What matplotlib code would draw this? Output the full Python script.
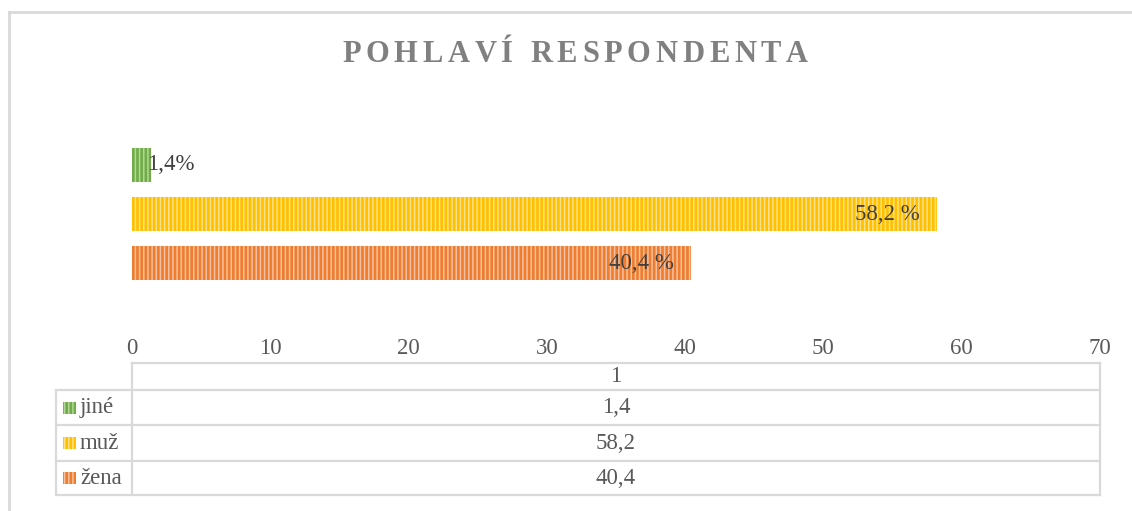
import matplotlib.pyplot as plt
from matplotlib.lines import Line2D
from matplotlib.patches import Rectangle

# data
categories = ['žena', 'muž', 'jiné']
values = [40.4, 58.2, 1.4]
bar_labels = ['40,4 %', '58,2 %', '1,4%']
colors = ['#ED7D31', '#FFC000', '#70AD47']
stripe_colors = ['#F8C09C', '#FFE189', '#B2D69B']
x_ticks = [0, 10, 20, 30, 40, 50, 60, 70]
title = 'POHLAVÍ RESPONDENTA'
series_name = '1'

W, H = 1132, 511
plt.rcParams['font.family'] = ['Liberation Serif', 'DejaVu Serif']
plt.rcParams['hatch.linewidth'] = 1.1
text_col = '#595959'
grid_col = '#D9D9D9'
fs = 16.5

fig = plt.figure(figsize=(W / 100, H / 100), dpi=100)


def fx(x):
    return x / W


def fy(y):
    return 1 - y / H


# plot area (pixel box 132..1100, 140..288)
ax = fig.add_axes([fx(132), fy(288), fx(1100) - fx(132), fy(140) - fy(288)])
for i, (v, c, sc) in enumerate(zip(values, colors, stripe_colors)):
    ax.barh(i, v, height=0.69, color=c, edgecolor=sc, linewidth=0, hatch='||||')

for i, (v, lab) in enumerate(zip(values, bar_labels)):
    if v < 5:
        ax.text(v - 0.3, i, lab, ha='left', va='center', fontsize=fs, color='#404040')
    else:
        ax.text(v - 1.2, i, lab, ha='right', va='center', fontsize=fs, color='#404040')

ax.set_xlim(x_ticks[0], x_ticks[-1])
ax.set_ylim(-0.5, 2.5)
ax.set_xticks(x_ticks)
ax.set_xticklabels([str(t) for t in x_ticks], fontsize=fs, color=text_col)
ax.tick_params(axis='x', length=0, pad=36)
ax.set_yticks([])
for s in ax.spines.values():
    s.set_visible(False)
ax.patch.set_alpha(0)

# title with wide letter spacing, spanning about x 342..808
fig.canvas.draw()
rend = fig.canvas.get_renderer()
tprops = dict(fontsize=22, fontweight='bold', color='#808080')
widths = []
for ch in title:
    if ch == ' ':
        widths.append(0.25 * tprops['fontsize'] * 100 / 72)
        continue
    t = fig.text(0, 0, ch, **tprops)
    widths.append(t.get_window_extent(rend).width)
    t.remove()
gap = (466 - sum(widths)) / (len(title) - 1)
x = 342
for ch, w in zip(title, widths):
    if ch != ' ':
        fig.text(fx(x), fy(62), ch, ha='left', va='baseline', **tprops)
    x += w + gap

# chart border
fig.add_artist(Line2D([fx(9), fx(W)], [fy(12), fy(12)], color=grid_col, lw=2))
fig.add_artist(Line2D([fx(9), fx(9)], [fy(12), fy(H)], color=grid_col, lw=2))

# data table
xl, xm, xr = 56, 132, 1100
rows_y = [363, 390, 425, 461, 495]
lw = 1.6
fig.add_artist(Line2D([fx(xm), fx(xr)], [fy(rows_y[0])] * 2, color=grid_col, lw=lw))
for yy in rows_y[1:]:
    fig.add_artist(Line2D([fx(xl), fx(xr)], [fy(yy)] * 2, color=grid_col, lw=lw))
fig.add_artist(Line2D([fx(xl), fx(xl)], [fy(rows_y[1]), fy(rows_y[-1])], color=grid_col, lw=lw))
fig.add_artist(Line2D([fx(xm), fx(xm)], [fy(rows_y[0]), fy(rows_y[-1])], color=grid_col, lw=lw))
fig.add_artist(Line2D([fx(xr), fx(xr)], [fy(rows_y[0]), fy(rows_y[-1])], color=grid_col, lw=lw))

xc = (xm + xr) / 2
fig.text(fx(xc), fy((rows_y[0] + rows_y[1]) / 2), series_name, ha='center', va='center',
         fontsize=fs, color=text_col)
order = list(reversed(range(len(categories))))
for r, i in enumerate(order):
    yc = (rows_y[r + 1] + rows_y[r + 2]) / 2
    fig.add_artist(Rectangle((fx(63), fy(yc + 6)), fx(13), fy(0) - fy(12),
                             facecolor=colors[i], edgecolor=stripe_colors[i], linewidth=0,
                             hatch='||||', transform=fig.transFigure))
    fig.text(fx(80), fy(yc), categories[i], ha='left', va='center', fontsize=fs, color=text_col)
    fig.text(fx(xc), fy(yc), f'{values[i]:.1f}'.replace('.', ','), ha='center', va='center',
             fontsize=fs, color=text_col)

fig.savefig('out.png', dpi=100)
